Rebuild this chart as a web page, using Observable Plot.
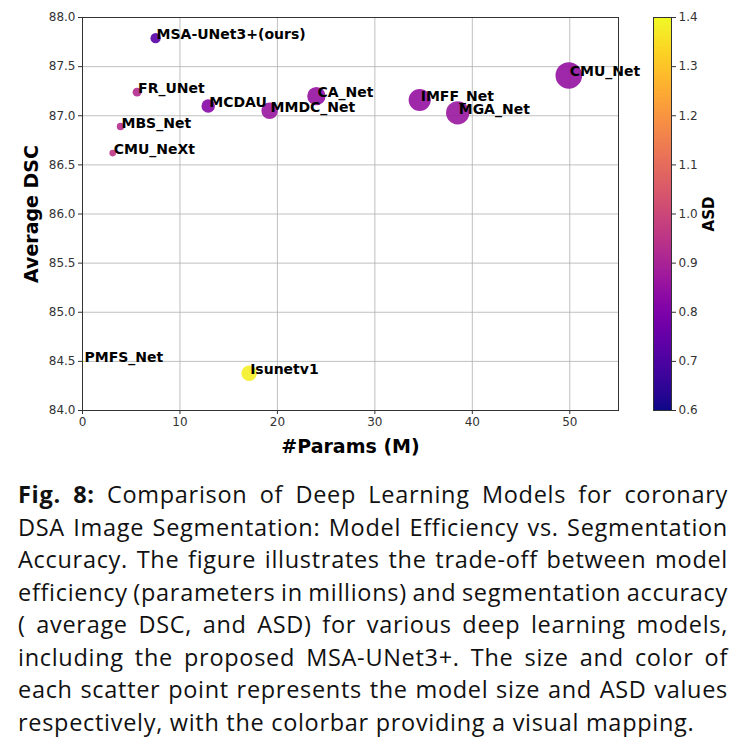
<!DOCTYPE html>
<html><head><meta charset="utf-8">
<script src="https://cdn.jsdelivr.net/npm/d3@7"></script>
<script src="https://cdn.jsdelivr.net/npm/@observablehq/plot@0.6"></script>
<style>
body{margin:0;background:#fff;}
#wrap{position:relative;width:740px;height:747px;overflow:hidden;background:#fff}
#main{position:absolute;left:0;top:0}
#cbar{position:absolute;left:653px;top:0}
#caption{position:absolute;left:18px;top:478px;width:710px;font-family:"Open Sans","Liberation Sans",sans-serif;font-size:23.5px;line-height:32.5px;letter-spacing:0.7px;color:#111}
#caption div{white-space:nowrap;height:32.5px}
#caption span{display:inline-block;white-space:nowrap}
#main g[aria-label="x-axis label"] text, #main g[aria-label="y-axis label"] text{font-weight:bold;font-size:19px;fill:#000}
#cbar g[aria-label="y-axis label"] text{font-weight:bold;font-size:15px;fill:#000}
</style>
</head><body>
<div id="wrap">
  <div id="main"></div>
  <div id="cbar"></div>
  <div id="caption"></div>
</div>
<script>
// ---- data ----
const models = ["MSA-UNet3+(ours)","FR_UNet","MCDAU","MMDC_Net","CA_Net","IMFF_Net","MGA_Net","CMU_Net","MBS_Net","CMU_NeXt","PMFS_Net","Isunetv1"];
const params = [7.5, 5.6, 12.9, 19.2, 24.0, 34.6, 38.5, 49.9, 3.9, 3.1, 0.1, 17.1];
const dsc    = [87.79, 87.24, 87.10, 87.05, 87.20, 87.16, 87.03, 87.41, 86.89, 86.62, 84.50, 84.38];
const asd    = [0.72, 0.92, 0.82, 0.86, 0.85, 0.85, 0.86, 0.85, 0.93, 0.95, 1.40, 1.38];
const xTicks = [0, 10, 20, 30, 40, 50];
const yTicks = [84.0, 84.5, 85.0, 85.5, 86.0, 86.5, 87.0, 87.5, 88.0];
const asdTicks = [0.6, 0.7, 0.8, 0.9, 1.0, 1.1, 1.2, 1.3, 1.4];
const captionLines = [
  "Comparison of Deep Learning Models for coronary",
  "DSA Image Segmentation: Model Efficiency vs. Segmentation",
  "Accuracy. The figure illustrates the trade-off between model",
  "efficiency (parameters in millions) and segmentation accuracy",
  "( average DSC, and ASD) for various deep learning models,",
  "including the proposed MSA-UNet3+. The size and color of",
  "each scatter point represents the model size and ASD values",
  "respectively, with the colorbar providing a visual mapping."
];

const data = models.map((m, i) => ({model: m, params: params[i], dsc: dsc[i], asd: asd[i]}));
const colorOpt = {type: "linear", scheme: "plasma", domain: [0.6, 1.4]};

const chart = Plot.plot({
  width: 740, height: 460,
  marginLeft: 82, marginRight: 122, marginTop: 17, marginBottom: 50,
  style: {fontFamily: "DejaVu Sans", fontSize: "12px", color: "#333", background: "white"},
  x: {domain: [0, 55]},
  y: {domain: [84, 88]},
  r: {type: "sqrt", domain: [0, 50], range: [0, 13.3]},
  color: colorOpt,
  marks: [
    Plot.gridX(xTicks, {stroke: "#b0b0b0", strokeOpacity: 1, strokeWidth: 0.8}),
    Plot.gridY(yTicks, {stroke: "#b0b0b0", strokeOpacity: 1, strokeWidth: 0.8}),
    Plot.axisX(xTicks, {tickSize: 4, tickPadding: 3, label: "#Params (M)", labelAnchor: "center", labelArrow: "none", labelOffset: 42}),
    Plot.axisY(yTicks, {tickSize: 4, tickPadding: 3, tickFormat: ".1f", label: "Average DSC", labelAnchor: "center", labelArrow: "none", labelOffset: 58}),
    Plot.dot(data, {x: "params", y: "dsc", r: "params", fill: "asd", fillOpacity: 0.9}),
    Plot.text(data, {x: "params", y: "dsc", text: "model", textAnchor: "start", lineAnchor: "bottom", dx: 1, dy: 1,
      fontWeight: "bold", fontSize: 14, fill: "#000", fontFamily: "DejaVu Sans"}),
    Plot.frame({stroke: "#333", strokeWidth: 1})
  ]
});
document.getElementById("main").appendChild(chart);

const cb = Plot.plot({
  width: 87, height: 460,
  marginLeft: 0, marginRight: 69, marginTop: 17, marginBottom: 50,
  style: {fontFamily: "DejaVu Sans", fontSize: "12px", color: "#333", background: "transparent", overflow: "visible"},
  x: {domain: [0, 1], axis: null},
  y: {domain: [0.6, 1.4]},
  color: colorOpt,
  marks: [
    Plot.raster({x1: 0, x2: 1, y1: 0.6, y2: 1.4, width: 2, height: 400, fill: (x, y) => y, imageRendering: "auto"}),
    Plot.frame({stroke: "#333", strokeWidth: 1}),
    Plot.axisY(asdTicks, {anchor: "right", tickSize: 4, tickPadding: 3, tickFormat: ".1f", label: "ASD", labelAnchor: "center", labelArrow: "none", labelOffset: 42})
  ]
});
document.getElementById("cbar").appendChild(cb);

// caption
const cap = document.getElementById("caption");
captionLines.forEach((t, i) => {
  const div = document.createElement("div");
  const span = document.createElement("span");
  if (i === 0) {
    const b = document.createElement("b");
    b.textContent = "Fig. 8:";
    span.appendChild(b);
    span.appendChild(document.createTextNode(" " + t));
  } else {
    span.textContent = t;
  }
  div.appendChild(span);
  cap.appendChild(div);
  if (i < captionLines.length - 1) {
    const w = span.getBoundingClientRect().width;
    const n = (span.textContent.match(/ /g) || []).length;
    span.style.wordSpacing = ((710 - w) / n) + "px";
  }
});
</script>
</body></html>
